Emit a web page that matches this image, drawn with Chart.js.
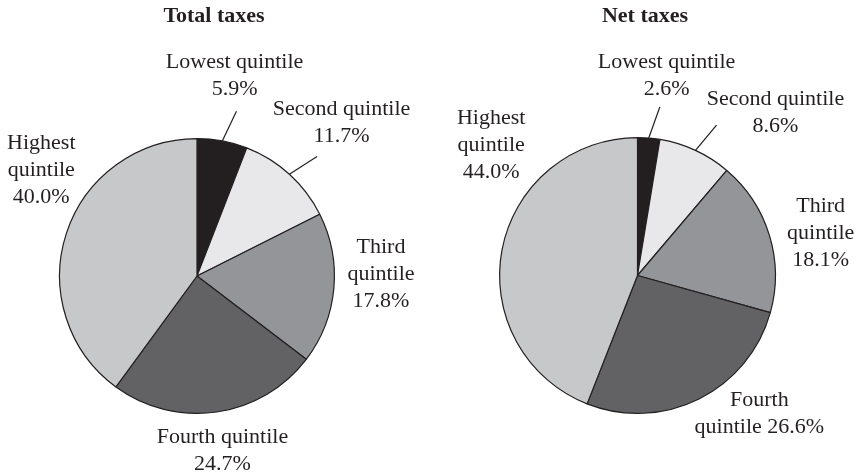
<!DOCTYPE html>
<html lang="en">
<head>
    <meta charset="UTF-8">
    <title>Total and net taxes by quintile</title>
    <script src="https://cdn.jsdelivr.net/npm/chart.js"></script>
    <style>
        body { margin: 0; background: #fff; }
        #box { position: relative; width: 856px; height: 475px; }
        .pie { position: absolute; top: 0; width: 428px; height: 475px; }
    </style>
</head>
<body>
    <div id="box">
        <div class="pie" style="left:0"><canvas id="total"></canvas></div>
        <div class="pie" style="left:428px"><canvas id="net"></canvas></div>
    </div>

    <script>
        // data
        var quintiles = ['Lowest quintile', 'Second quintile', 'Third quintile', 'Fourth quintile', 'Highest quintile']
        var totalTaxes = [5.9, 11.7, 17.8, 24.7, 40.0]
        var netTaxes = [2.6, 8.6, 18.1, 26.6, 44.0]

        // label text lines (how the reference breaks them)
        var totalLines = [
            ['Lowest quintile', '5.9%'],
            ['Second quintile', '11.7%'],
            ['Third', 'quintile', '17.8%'],
            ['Fourth quintile', '24.7%'],
            ['Highest', 'quintile', '40.0%']
        ]
        var netLines = [
            ['Lowest quintile', '2.6%'],
            ['Second quintile', '8.6%'],
            ['Third', 'quintile', '18.1%'],
            ['Fourth', 'quintile 26.6%'],
            ['Highest', 'quintile', '44.0%']
        ]

        var colores = ['#231f20', '#e8e8ea', '#939598', '#626264', '#c7c8ca']
        var fonte = '"Liberation Serif", "Times New Roman", serif'

        // label placement: distance from pie centre and angle nudge (deg) from slice middle
        var totalPlace = { dist: [204, 211, 184, 177, 188], nudge: [0, 1, -6, 0, 16], leader: [true, true, false, false, false] }
        var netPlace = { dist: [202, 213, 188, 184, 196], nudge: [3.6, 15.5, 4, -15, 31], leader: [true, true, false, false, false] }

        var rotulos = {
            id: 'rotulos',
            afterDraw: function (chart, args, opts) {
                var ctx = chart.ctx
                var arcs = chart.getDatasetMeta(0).data
                ctx.save()
                // title
                ctx.fillStyle = '#231f20'
                ctx.font = 'bold 22px ' + fonte
                ctx.textAlign = 'center'
                ctx.textBaseline = 'middle'
                ctx.fillText(opts.titulo, opts.tituloX, 16)

                ctx.font = '22px ' + fonte
                for (var i = 0; i < arcs.length; i++) {
                    var a = arcs[i].getProps(['x', 'y', 'startAngle', 'endAngle', 'outerRadius'], true)
                    var meio = (a.startAngle + a.endAngle) / 2
                    if (opts.lugar.leader[i]) {
                        ctx.strokeStyle = '#231f20'
                        ctx.lineWidth = 1.2
                        ctx.beginPath()
                        ctx.moveTo(a.x + Math.cos(meio) * a.outerRadius, a.y + Math.sin(meio) * a.outerRadius)
                        var m2 = meio + 0.05
                        ctx.lineTo(a.x + Math.cos(m2) * (a.outerRadius + 32), a.y + Math.sin(m2) * (a.outerRadius + 32))
                        ctx.stroke()
                    }
                    var ang = meio + opts.lugar.nudge[i] * Math.PI / 180
                    var cx = a.x + Math.cos(ang) * opts.lugar.dist[i]
                    var cy = a.y + Math.sin(ang) * opts.lugar.dist[i]
                    var linhas = opts.linhas[i]
                    var alt = 27
                    var y0 = cy - (linhas.length - 1) * alt / 2
                    for (var j = 0; j < linhas.length; j++) {
                        ctx.fillText(linhas[j], cx, y0 + j * alt)
                    }
                }
                ctx.restore()
            }
        }

        function pizza(id, valores, linhas, lugar, titulo, tituloX, pad) {
            new Chart(document.getElementById(id), {
                type: 'pie',
                data: {
                    labels: quintiles,
                    datasets: [{
                        data: valores,
                        backgroundColor: colores,
                        borderColor: '#231f20',
                        borderWidth: 1.2
                    }]
                },
                options: {
                    responsive: false,
                    animation: false,
                    layout: { padding: pad },
                    plugins: {
                        legend: { display: false },
                        tooltip: { enabled: false },
                        rotulos: { linhas: linhas, lugar: lugar, titulo: titulo, tituloX: tituloX }
                    }
                },
                plugins: [rotulos]
            })
        }

        document.getElementById('total').width = 428
        document.getElementById('total').height = 475
        document.getElementById('net').width = 428
        document.getElementById('net').height = 475

        pizza('total', totalTaxes, totalLines, totalPlace, 'Total taxes', 214, { left: 59, right: 93, top: 138, bottom: 61 })
        pizza('net', netTaxes, netLines, netPlace, 'Net taxes', 217, { left: 71, right: 80, top: 137, bottom: 61 })
    </script>
</body>
</html>
